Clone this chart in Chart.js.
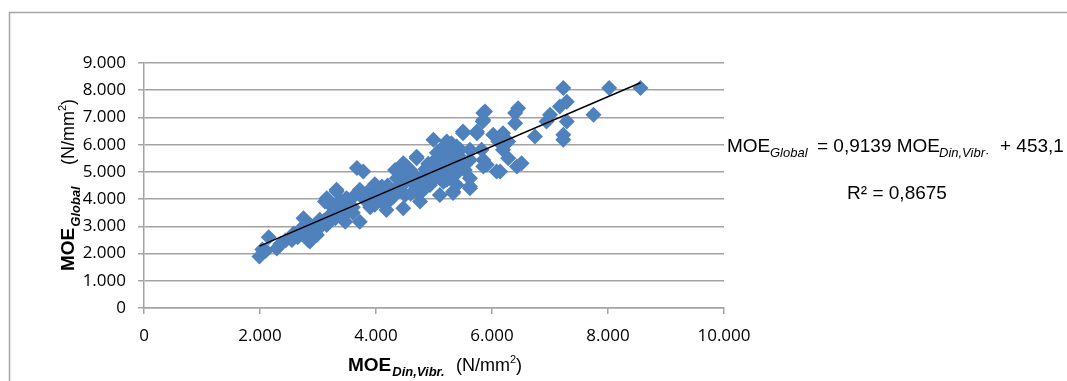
<!DOCTYPE html>
<html>
<head>
<meta charset="utf-8">
<script src="https://cdn.jsdelivr.net/npm/chart.js@4.4.1/dist/chart.umd.min.js"></script>
<style>
  html, body { margin: 0; padding: 0; background: #fff; }
  canvas { display: block; }
</style>
</head>
<body>
<canvas id="chartMoe" width="1067" height="381"></canvas>
<script>
// MOE din,vibr (x) and MOE global (y), N/mm2
const moeDin = [
  1990, 2040, 2150, 2290, 2440, 2580, 2650, 2690, 2750, 2830, 2860, 2870, 2950, 2980, 2980,
  3030, 3100, 3120, 3150, 3150, 3210, 3300, 3320, 3320, 3380, 3380, 3450, 3470, 3490, 3520,
  3550, 3600, 3640, 3670, 3720, 3720, 3780, 3810, 3900, 3900, 3980, 4070, 4100, 4180, 4200,
  4240, 4330, 4330, 4360, 4400, 4410, 4470, 4470, 4500, 4500, 4530, 4550, 4590, 4650, 4670,
  4700, 4700, 4730, 4730, 4760, 4820, 4840, 4850, 4900, 4930, 4950, 4960, 4990, 5000, 5020,
  5050, 5100, 5100, 5100, 5150, 5160, 5190, 5190, 5200, 5220, 5220, 5250, 5300, 5300, 5330,
  5330, 5360, 5360, 5390, 5390, 5390, 5450, 5450, 5500, 5500, 5530, 5620, 5620, 5620, 5620,
  5620, 5740, 5740, 5820, 5840, 5850, 5850, 5850, 5880, 5850, 5910, 6020, 6080, 6110, 6140,
  6190, 6190, 6280, 6280, 6400, 6400, 6430, 6450, 6510, 6740, 6940, 7000, 7170, 7230, 7230,
  7230, 7290, 7290, 7750, 8020, 8560,
  2100, 2350, 2550, 2800, 3050, 3250, 3600, 3850, 4000, 4100, 4300, 4450, 4600, 4780, 5050,
  5250, 5420, 4150, 3980
];
const moeGlobal = [
  1890, 2150, 2600, 2190, 2480, 2740, 2600, 2870, 3300, 2500, 2440, 3050, 2750, 2680, 2870,
  3240, 3200, 3910, 3050, 4030, 3420, 3300, 4280, 4340, 3600, 3970, 3400, 3170, 4030, 3970,
  3790, 3700, 4150, 5140, 4340, 3170, 5010, 3970, 4090, 3700, 3790, 4150, 4460, 3600, 4500,
  3970, 4340, 5070, 4770, 4300, 4700, 3660, 5320, 4150, 4600, 5200, 4780, 5070, 4900, 4520,
  5500, 5560, 4220, 4340, 3910, 4340, 4890, 5100, 5300, 4520, 4950, 4640, 6180, 5400, 5260,
  5700, 5560, 4780, 4150, 5900, 4640, 5810, 4700, 5100, 6120, 4710, 5500, 6050, 5700, 4280,
  4220, 5260, 4890, 5930, 5440, 4520, 5810, 5300, 6420, 6480, 5070, 5810, 5440, 4770, 4400,
  4460, 6420, 6480, 5810, 6850, 7160, 5440, 5200, 7220, 6910, 5260, 6360, 5010, 6120, 5010,
  6420, 5810, 6120, 5500, 7160, 6790, 5200, 7340, 5320, 6300, 6850, 7100, 7400, 8080, 6360,
  6180, 7580, 6850, 7100, 8080, 8080,
  2100, 2350, 2500, 2800, 3000, 3700, 3500, 4250, 4300, 3900, 4100, 4900, 4200, 4600, 5000,
  5300, 5600, 4250, 4550
];

// linear trend printed on the chart
const slope = 0.9139;
const intercept = 453.1;
const rSquared = '0,8675';

const xMin = Math.min(...moeDin);
const xMax = Math.max(...moeDin);
const trendPts = [
  { x: xMin, y: slope * xMin + intercept },
  { x: xMax, y: slope * xMax + intercept }
];
const points = moeDin.map((v, i) => ({ x: v, y: moeGlobal[i] }));

const gridGrey = '#a3a3a3';
const tickFont = { family: '"Open Sans", sans-serif', size: 17 };
const labelFont = '"Liberation Sans", Arial, sans-serif';

function fmtThousands(v) {
  return String(v).replace(/\B(?=(\d{3})+(?!\d))/g, '.');
}

// frame, axis titles and trend equation
const decor = {
  id: 'decor',
  afterDraw(chart) {
    const c = chart.ctx;
    c.save();
    c.strokeStyle = '#a6a6a6';
    c.lineWidth = 1.5;
    c.beginPath();
    c.moveTo(9.5, 381);
    c.lineTo(9.5, 12.5);
    c.lineTo(1067, 12.5);
    c.stroke();

    c.fillStyle = '#000';
    c.textBaseline = 'alphabetic';
    c.textAlign = 'left';

    // x axis title
    let x = 348;
    c.font = 'bold 19px ' + labelFont;
    c.fillText('MOE', x, 371);
    x += c.measureText('MOE').width + 1;
    c.font = 'italic bold 13px ' + labelFont;
    c.fillText('Din,Vibr.', x, 376);
    x = 456;
    c.font = '18px ' + labelFont;
    c.fillText('(N/mm', x, 371);
    x += c.measureText('(N/mm').width;
    c.font = '11px ' + labelFont;
    c.fillText('2', x, 363);
    x += c.measureText('2').width;
    c.font = '18px ' + labelFont;
    c.fillText(')', x, 371);

    // y axis title (rotated)
    c.save();
    c.translate(74, 271);
    c.rotate(-Math.PI / 2);
    x = 0;
    c.font = 'bold 19px ' + labelFont;
    c.fillText('MOE', x, 0);
    x += c.measureText('MOE').width + 1;
    c.font = 'italic bold 13px ' + labelFont;
    c.fillText('Global', x, 6);
    x = 106;
    c.font = '18px ' + labelFont;
    c.fillText('(N/mm', x, 0);
    x += c.measureText('(N/mm').width;
    c.font = '11px ' + labelFont;
    c.fillText('2', x, -8);
    x += c.measureText('2').width;
    c.font = '18px ' + labelFont;
    c.fillText(')', x, 0);
    c.restore();

    // trend equation
    c.font = '19px ' + labelFont;
    c.fillText('MOE', 727, 152);
    c.fillText('= 0,9139 MOE', 817, 152);
    c.fillText('+ ' + String(intercept).replace('.', ','), 1000, 152);
    c.font = 'italic 13px ' + labelFont;
    c.fillText('Global', 770, 157);
    c.fillText('Din,Vibr\u00b7', 939, 157);
    c.font = '19px ' + labelFont;
    c.textAlign = 'center';
    c.fillText('R\u00b2 = ' + rSquared, 897, 199);
    c.restore();
  }
};

new Chart(document.getElementById('chartMoe').getContext('2d'), {
  type: 'scatter',
  data: {
    datasets: [
      {
        label: 'Trend',
        data: trendPts,
        showLine: true,
        borderColor: '#000',
        borderWidth: 1.5,
        pointRadius: 0,
        fill: false
      },
      {
        label: 'MOE',
        data: points,
        pointStyle: 'rectRot',
        pointRadius: 8,
        pointHoverRadius: 8,
        backgroundColor: '#4f81bd',
        borderColor: '#4f81bd',
        borderWidth: 0
      }
    ]
  },
  options: {
    responsive: false,
    animation: false,
    events: [],
    layout: { padding: { left: 0, top: 63, right: 343, bottom: 0 } },
    plugins: {
      legend: { display: false },
      tooltip: { enabled: false }
    },
    scales: {
      x: {
        type: 'linear',
        min: 0,
        max: 10000,
        afterFit: function(scale) { scale.height = 73; },
        ticks: {
          stepSize: 2000,
          color: '#000',
          font: tickFont,
          padding: 12,
          maxRotation: 0,
          callback: function(v) { return fmtThousands(v); }
        },
        grid: {
          drawOnChartArea: false,
          drawTicks: true,
          tickLength: 6,
          tickColor: gridGrey,
          lineWidth: 1.5
        },
        border: { display: true, color: gridGrey, width: 1.5 }
      },
      y: {
        type: 'linear',
        min: 0,
        max: 9000,
        afterFit: function(scale) { scale.width = 144; },
        ticks: {
          stepSize: 1000,
          color: '#000',
          font: tickFont,
          padding: 12,
          callback: function(v) { return fmtThousands(v); }
        },
        grid: {
          color: gridGrey,
          lineWidth: 1.5,
          drawTicks: true,
          tickLength: 6,
          tickColor: gridGrey
        },
        border: { display: true, color: gridGrey, width: 1.5 }
      }
    }
  },
  plugins: [decor]
});
</script>
</body>
</html>
